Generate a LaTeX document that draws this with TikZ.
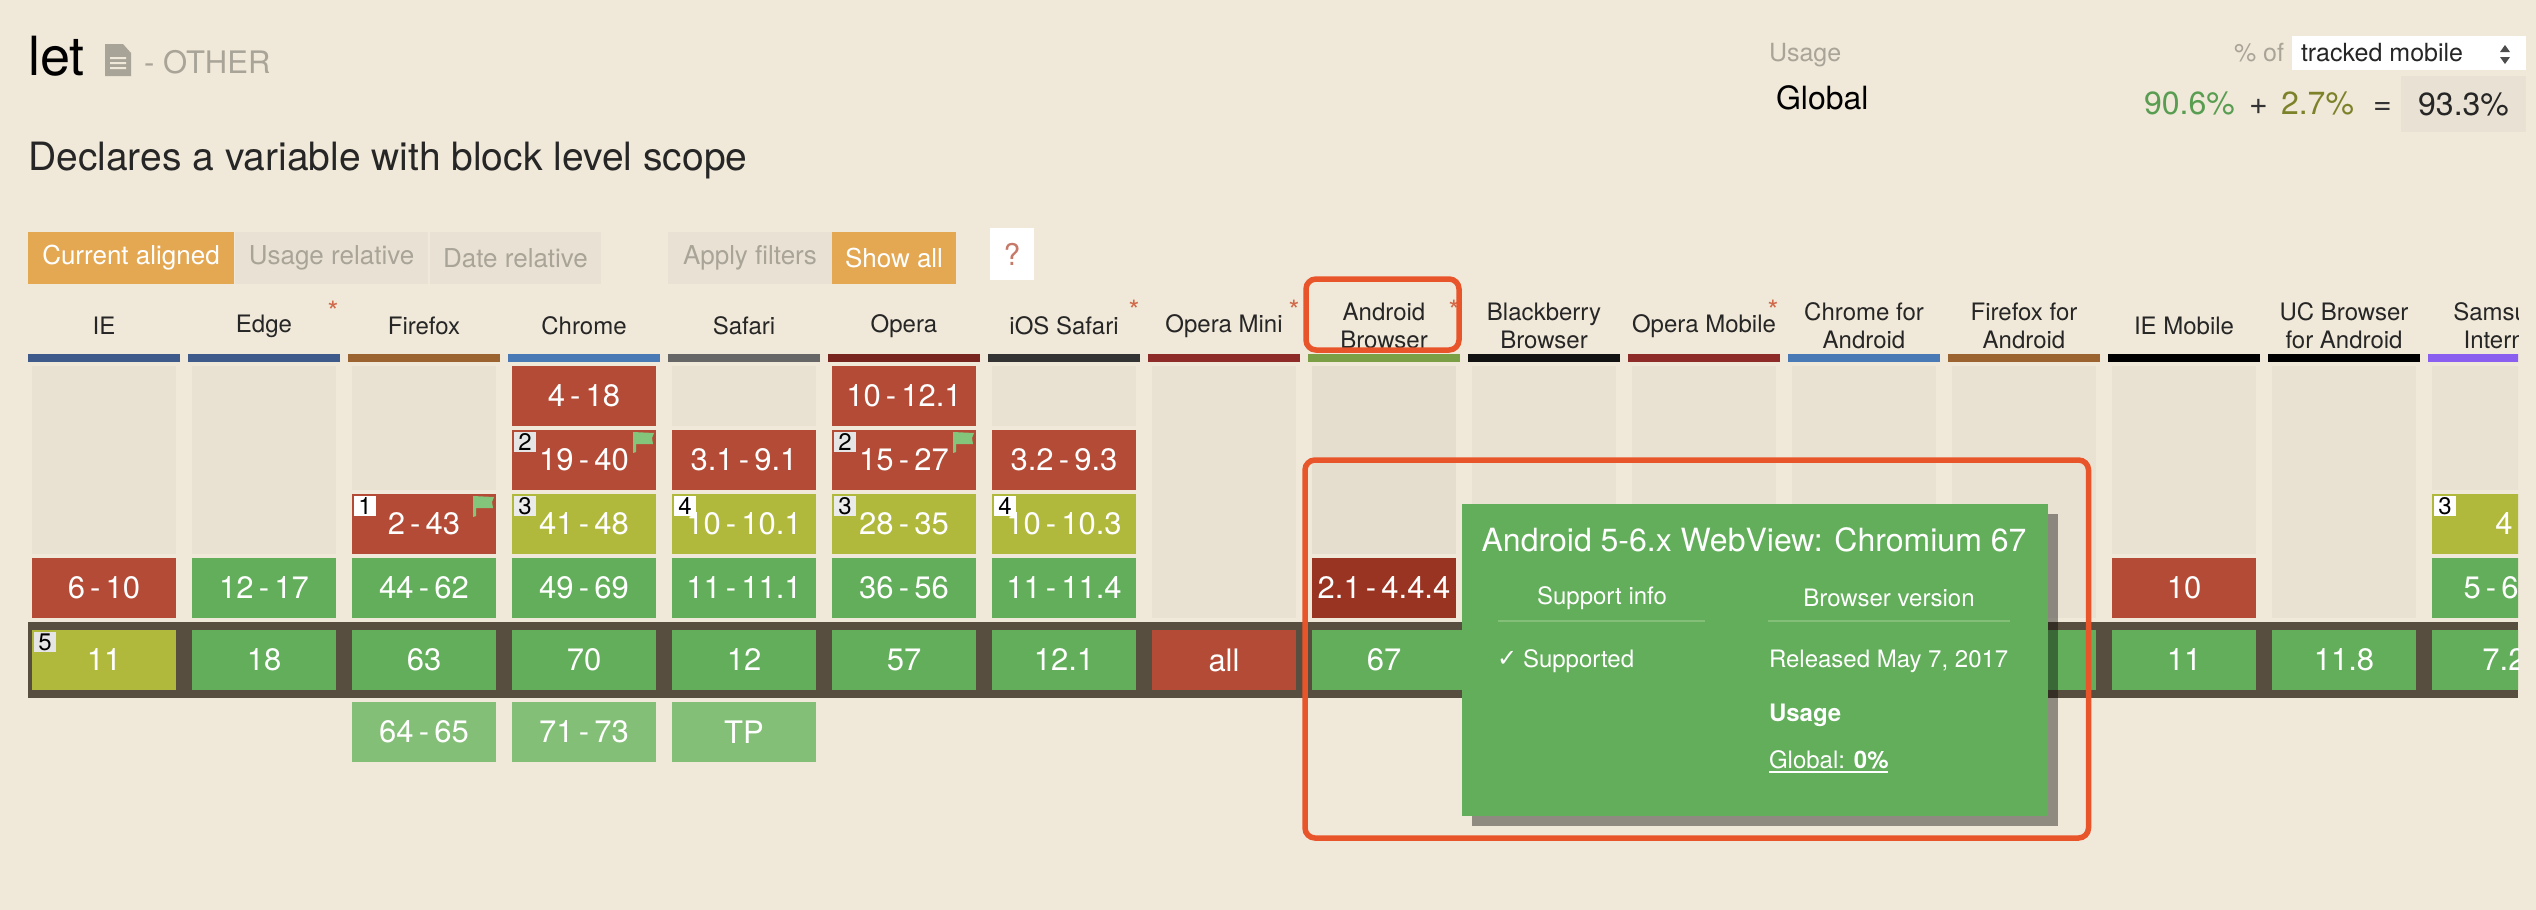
\documentclass[tikz,border=0pt]{standalone}
\usepackage{fontspec}
\setmainfont{TeX Gyre Heros}
\newfontfamily\symfont{DejaVu Sans}
\usetikzlibrary{positioning}
\definecolor{paper}{HTML}{F0E8D8}
\definecolor{blankc}{HTML}{E9E2D2}
\definecolor{hoverc}{HTML}{E5DECE}
\definecolor{bandc}{HTML}{584E3F}
\definecolor{redc}{HTML}{B44B36}
\definecolor{darkredc}{HTML}{993322}
\definecolor{greenc}{HTML}{62AE5A}
\definecolor{lightgreenc}{HTML}{84BF78}
\definecolor{yellowc}{HTML}{B0B93C}
\definecolor{orangec}{HTML}{E4A853}
\definecolor{btnc}{HTML}{E9E2D4}
\definecolor{mutedc}{HTML}{A9A498}
\definecolor{framec}{HTML}{E9552B}
\definecolor{starc}{HTML}{D0694A}
\definecolor{flagc}{HTML}{84C57C}
\newcommand{\flagat}[1]{%
	\fill[flagc] ([shift={(-23,2)}]#1.north east) -- ++(21,1) -- ++(-2,5) -- ++(1,6) -- ++(-17,0) -- ++(0,8) -- ++(-3,1) -- cycle;}
\tikzset{
	bar/.style={minimum width=152pt,minimum height=8pt,inner sep=0,outer sep=0},
	head/.style={minimum height=56pt,inner sep=0,outer sep=0,align=center,text=black!85,font=\fontsize{24}{28}\selectfont},
	astr/.style={inner sep=0,text=starc,font=\fontsize{28}{28}\selectfont},
	cell/.style={minimum width=144pt,minimum height=60pt,inner sep=0,outer sep=0,text=white,font=\fontsize{31}{31}\selectfont},
	blank/.style={cell,fill=blankc},
	red/.style={cell,fill=redc},
	green/.style={cell,fill=greenc},
	yellow/.style={cell,fill=yellowc},
	future/.style={cell,fill=lightgreenc},
	note/.style={minimum width=22pt,minimum height=20pt,inner sep=0,outer sep=0,text=black,fill=white,font=\fontsize{24}{24}\selectfont},
	btn/.style={minimum height=52pt,inner sep=0,outer sep=0,fill=btnc,text=mutedc,font=\fontsize{26}{26}\selectfont},
	btnon/.style={btn,fill=orangec,text=white},
	frame/.style={draw=framec,line width=5.5pt,rounded corners=10pt,inner sep=0,outer sep=0},
	tiptext/.style={inner sep=0,outer sep=0,text=white,font=\fontsize{24}{24}\selectfont},
	big/.style={inner sep=0,outer sep=0,anchor=base west,font=\fontsize{32}{32}\selectfont},
	small/.style={inner sep=0,outer sep=0,anchor=base west,font=\fontsize{25}{25}\selectfont}
}
\begin{document}
\begin{tikzpicture}[x=1pt,y=-1pt]
	\fill[paper] (0,0) rectangle (2536,910);
	% heading
	\node (title) [inner sep=0,anchor=base west,text=black,font=\fontsize{54}{54}\selectfont] at (28,75) {let};
	\fill[mutedc] (105,44) -- (123,44) -- (131,53) -- (131,76) -- (105,76) -- cycle;
	\fill[paper] (110,57) rectangle (126,59) (110,62) rectangle (126,64) (110,67) rectangle (126,69);
	\node (kind) [inner sep=0,anchor=base west,text=mutedc,font=\fontsize{31}{31}\selectfont] at (144,73) {- OTHER};
	\node (desc) [inner sep=0,anchor=base west,text=black!85,font=\fontsize{39}{39}\selectfont] at (28,170) {Declares a variable with block level scope};
	% usage
	\node (usage) [small,text=mutedc] at (1769,61) {Usage};
	\node (region) [big,text=black] at (1776,109) {Global};
	\node (pct) [small,text=mutedc] at (2234,61) {\% of};
	\node (select) [inner sep=0,outer sep=0,fill=white,minimum width=234pt,minimum height=34pt] at (2409,53) {};
	\node (tracked) [small,text=black!85] at (2301,61) {tracked mobile};
	\fill[black!70] (2505,45) -- (2510,52) -- (2500,52) -- cycle (2500,57) -- (2510,57) -- (2505,64) -- cycle;
	\node (full) [big,text=greenc!90!black] at (2144,114) {90.6\%};
	\node (plus) [big,text=black!80] at (2249,114) {+};
	\node (part) [big,text=yellowc!70!black] at (2281,114) {2.7\%};
	\node (eq) [big,text=black!80] at (2373,114) {=};
	\node (total) [inner sep=0,outer sep=0,fill=btnc,text=black!85,minimum width=125pt,minimum height=56pt,font=\fontsize{32}{32}\selectfont] at (2463.5,104) {93.3\%};
	% buttons
	\node (btnCur) [btnon,minimum width=206pt] at (131,258) {Current aligned};
	\node (btnUse) [btn,minimum width=193pt,right=1pt of btnCur] {Usage relative};
	\node (btnDate) [btn,minimum width=171pt,right=2pt of btnUse] {Date relative};
	\node (btnFilter) [btn,minimum width=164pt,right=67pt of btnDate] {Apply filters};
	\node (btnAll) [btnon,minimum width=124pt,right=0pt of btnFilter] {Show all};
	\node (btnHelp) [inner sep=0,outer sep=0,fill=white,text=redc!75,minimum width=44pt,minimum height=52pt,font=\fontsize{30}{30}\selectfont] at (1012,254) {?};
	% current row band
	\node (band) [inner sep=0,outer sep=0,fill=bandc,minimum width=2490pt,minimum height=76pt] at (1273,660) {};
	% browser bars
	\node (ie) [bar,fill={rgb,255:red,61;green,90;blue,138}] at (104,358) {};
	\node (edge) [bar,fill={rgb,255:red,61;green,90;blue,138},right=8pt of ie] {};
	\node (ff) [bar,fill={rgb,255:red,155;green,99;blue,48},right=8pt of edge] {};
	\node (chr) [bar,fill={rgb,255:red,74;green,122;blue,181},right=8pt of ff] {};
	\node (saf) [bar,fill=black!60,right=8pt of chr] {};
	\node (op) [bar,fill={rgb,255:red,120;green,37;blue,32},right=8pt of saf] {};
	\node (ios) [bar,fill=black!80,right=8pt of op] {};
	\node (mini) [bar,fill={rgb,255:red,140;green,43;blue,40},right=8pt of ios] {};
	\node (andr) [bar,fill={rgb,255:red,123;green,159;blue,69},right=8pt of mini] {};
	\node (bb) [bar,fill=black!93,right=8pt of andr] {};
	\node (opm) [bar,fill={rgb,255:red,140;green,43;blue,40},right=8pt of bb] {};
	\node (chra) [bar,fill={rgb,255:red,74;green,122;blue,181},right=8pt of opm] {};
	\node (ffa) [bar,fill={rgb,255:red,155;green,99;blue,48},right=8pt of chra] {};
	\node (iem) [bar,fill=black,right=8pt of ffa] {};
	\node (uc) [bar,fill=black,right=8pt of iem] {};
	% browser names
	\node (ieName) [head,above=0pt of ie] {IE};
	\node (edgeName) [head,above=0pt of edge] {Edge};
	\node (ffName) [head,above=0pt of ff] {Firefox};
	\node (chrName) [head,above=0pt of chr] {Chrome};
	\node (safName) [head,above=0pt of saf] {Safari};
	\node (opName) [head,above=0pt of op] {Opera};
	\node (iosName) [head,above=0pt of ios] {iOS Safari};
	\node (miniName) [head,above=0pt of mini] {Opera Mini};
	\node (andrName) [head,above=0pt of andr] {Android\\Browser};
	\node (bbName) [head,above=0pt of bb] {Blackberry\\Browser};
	\node (opmName) [head,above=0pt of opm] {Opera Mobile};
	\node (chraName) [head,above=0pt of chra] {Chrome for\\Android};
	\node (ffaName) [head,above=0pt of ffa] {Firefox for\\Android};
	\node (iemName) [head,above=0pt of iem] {IE Mobile};
	\node (ucName) [head,above=0pt of uc] {UC Browser\\for Android};
	\node (edgeStar) [astr] at (333,311) {*};
	\node (iosStar) [astr] at (1134,310) {*};
	\node (miniStar) [astr] at (1294,310) {*};
	\node (andrStar) [astr] at (1454,310) {*};
	\node (opmStar) [astr] at (1773,310) {*};
	% IE
	\node (ieB) [blank,minimum height=188pt,below=4pt of ie] {};
	\node (ie4) [red,below=4pt of ieB] {6\,-\,10};
	\node (ie5) [yellow,below=12pt of ie4] {11};
	% Edge
	\node (edgeB) [blank,minimum height=188pt,below=4pt of edge] {};
	\node (edge4) [green,below=4pt of edgeB] {12\,-\,17};
	\node (edge5) [green,below=12pt of edge4] {18};
	% Firefox
	\node (ffB) [blank,minimum height=124pt,below=4pt of ff] {};
	\node (ff3) [red,below=4pt of ffB] {2\,-\,43};
	\node (ff4) [green,below=4pt of ff3] {44\,-\,62};
	\node (ff5) [green,below=12pt of ff4] {63};
	\node (ff6) [future,below=12pt of ff5] {64\,-\,65};
	% Chrome
	\node (chr1) [red,below=4pt of chr] {4\,-\,18};
	\node (chr2) [red,below=4pt of chr1] {19\,-\,40};
	\node (chr3) [yellow,below=4pt of chr2] {41\,-\,48};
	\node (chr4) [green,below=4pt of chr3] {49\,-\,69};
	\node (chr5) [green,below=12pt of chr4] {70};
	\node (chr6) [future,below=12pt of chr5] {71\,-\,73};
	% Safari
	\node (safB) [blank,below=4pt of saf] {};
	\node (saf2) [red,below=4pt of safB] {3.1\,-\,9.1};
	\node (saf3) [yellow,below=4pt of saf2] {10\,-\,10.1};
	\node (saf4) [green,below=4pt of saf3] {11\,-\,11.1};
	\node (saf5) [green,below=12pt of saf4] {12};
	\node (saf6) [future,below=12pt of saf5] {TP};
	% Opera
	\node (op1) [red,below=4pt of op] {10\,-\,12.1};
	\node (op2) [red,below=4pt of op1] {15\,-\,27};
	\node (op3) [yellow,below=4pt of op2] {28\,-\,35};
	\node (op4) [green,below=4pt of op3] {36\,-\,56};
	\node (op5) [green,below=12pt of op4] {57};
	% iOS Safari
	\node (iosB) [blank,below=4pt of ios] {};
	\node (ios2) [red,below=4pt of iosB] {3.2\,-\,9.3};
	\node (ios3) [yellow,below=4pt of ios2] {10\,-\,10.3};
	\node (ios4) [green,below=4pt of ios3] {11\,-\,11.4};
	\node (ios5) [green,below=12pt of ios4] {12.1};
	% Opera Mini
	\node (miniB) [blank,minimum height=252pt,below=4pt of mini] {};
	\node (mini5) [red,below=12pt of miniB] {all};
	% Android Browser
	\node (andrB) [blank,fill=hoverc,minimum height=188pt,below=4pt of andr] {};
	\node (andr4) [red,fill=darkredc,below=4pt of andrB] {2.1\,-\,4.4.4};
	\node (andr5) [green,below=12pt of andr4] {67};
	% browsers behind the tooltip
	\node (bbB) [blank,minimum height=252pt,below=4pt of bb] {};
	\node (opmB) [blank,minimum height=252pt,below=4pt of opm] {};
	\node (chraB) [blank,minimum height=252pt,below=4pt of chra] {};
	\node (ffaB) [blank,minimum height=252pt,below=4pt of ffa] {};
	\node (ffa5) [green,below=12pt of ffaB] {};
	% IE Mobile
	\node (iemB) [blank,minimum height=188pt,below=4pt of iem] {};
	\node (iem4) [red,below=4pt of iemB] {10};
	\node (iem5) [green,below=12pt of iem4] {11};
	% UC Browser
	\node (ucB) [blank,minimum height=252pt,below=4pt of uc] {};
	\node (uc5) [green,below=12pt of ucB] {11.8};
	% Samsung, cut at the right
	\begin{scope}
		\clip (2420,290) rectangle (2518,700);
		\node (sam) [bar,fill={rgb,255:red,138;green,95;blue,240},right=8pt of uc] {};
		\node (samName) [head,above=0pt of sam] {Samsung\\Internet};
		\node (samB) [blank,minimum height=124pt,below=4pt of sam] {};
		\node (sam3) [yellow,below=4pt of samB] {4};
		\node (sam4) [green,below=4pt of sam3] {5\,-\,6.4};
		\node (sam5) [green,below=12pt of sam4] {7.2};
	\end{scope}
	% notes and flags
	\node (note1) [note,below right=2pt and 2pt of ff3.north west] {1};
	\node (note2a) [note,fill=black!10,below right=2pt and 2pt of chr2.north west] {2};
	\node (note3a) [note,fill=black!8,below right=2pt and 2pt of chr3.north west] {3};
	\node (note4a) [note,below right=2pt and 2pt of saf3.north west] {4};
	\node (note2b) [note,fill=black!10,below right=2pt and 2pt of op2.north west] {2};
	\node (note3b) [note,fill=black!8,below right=2pt and 2pt of op3.north west] {3};
	\node (note4b) [note,below right=2pt and 2pt of ios3.north west] {4};
	\node (note5) [note,fill=black!10,below right=2pt and 2pt of ie5.north west] {5};
	\node (note3c) [note,below right=2pt and 2pt of sam3.north west] {3};
	\flagat{ff3}
	\flagat{chr2}
	\flagat{op2}
	% tooltip
	\node (tipShadow) [inner sep=0,outer sep=0,fill=black,opacity=.4,anchor=north west,minimum width=586pt,minimum height=312pt] at (1472,514) {};
	\fill[greenc] (andr5.north east) rectangle ([xshift=8pt]andr5.south east);
	\node (tip) [inner sep=0,outer sep=0,fill=greenc,anchor=north west,minimum width=586pt,minimum height=312pt] at (1462,504) {};
	\node (tipTitle) [tiptext,font=\fontsize{32}{32}\selectfont] at (1754,540) {Android 5-6.x WebView: Chromium 67};
	\node (tipSupport) [tiptext] at (1602,598) {Support info};
	\node (tipVersion) [tiptext] at (1889,598) {Browser version};
	\coordinate (lineA) at (1498,621);
	\coordinate (lineB) at (1705,621);
	\coordinate (lineC) at (1768,621);
	\coordinate (lineD) at (2010,621);
	\draw[lightgreenc,line width=2pt] (lineA) -- (lineB);
	\draw[lightgreenc,line width=2pt] (lineC) -- (lineD);
	\node (tipCheck) [tiptext,anchor=west] at (1497,659) {\symfont ✓};
	\node (tipSupported) [tiptext,anchor=base west] at (1523,667) {Supported};
	\node (tipReleased) [tiptext,anchor=base west] at (1769,667) {Released May 7, 2017};
	\node (tipUsage) [tiptext,anchor=base west,font=\fontsize{24}{24}\selectfont\bfseries] at (1769,721) {Usage};
	\node (tipGlobal) [tiptext,anchor=base west] at (1769,768) {Global: \textbf{0\%}};
	\coordinate (lineE) at (1769,772);
	\coordinate (lineF) at (1888,772);
	\draw[white,line width=1.5pt] (lineE) -- (lineF);
	% highlight frames
	\node (frameHead) [frame,minimum width=153pt,minimum height=71pt] at (1382.5,314.5) {};
	\node (frameTip) [frame,minimum width=783.5pt,minimum height=378pt] at (1696.75,649) {};
\end{tikzpicture}
\end{document}
